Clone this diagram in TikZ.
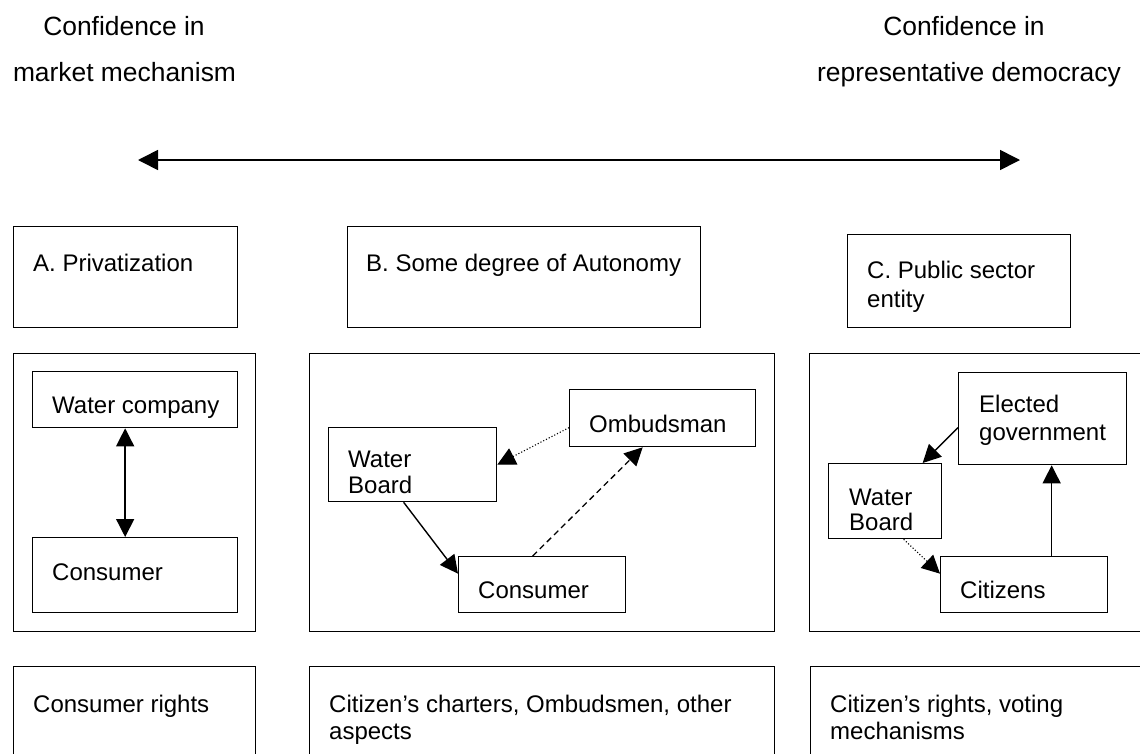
\documentclass[tikz,border=0pt]{standalone}
\usepackage{fontspec}
\setmainfont{Liberation Sans}
\usetikzlibrary{arrows.meta,calc}
\begin{document}
\begin{tikzpicture}[x=1pt,y=-1pt,
  box/.style={draw, line width=1.3pt, rectangle, inner sep=0pt, anchor=north west},
  txt/.style={inner sep=0pt, anchor=base west, align=left, font=\fontsize{24}{27}\selectfont},
  head/.style={inner sep=0pt, anchor=base, font=\fontsize{26.4}{30}\selectfont},
  tip/.style={Triangle[length=18pt,width=18pt]},
  conn/.style={line width=1.4pt, -{Triangle[length=18pt,width=18pt]}},
  dotconn/.style={line width=1.1pt, dotted, -{Triangle[length=18pt,width=18pt]}},
  dashconn/.style={line width=1.3pt, dash pattern=on 6pt off 4pt, -{Triangle[length=18pt,width=18pt]}}
]
\useasboundingbox (0,0) rectangle (1140,753);
\clip (0,0) rectangle (1140,753);

% headings
\node[head] (hl1) at (124,35) {Confidence in};
\node[head] (hl2) at (124.5,81.7) {market mechanism};
\node[head] (hr1) at (964,35) {Confidence in};
\node[head] (hr2) at (969,81.7) {representative democracy};

% main axis arrow
\coordinate (axL) at (138,160);
\coordinate (axR) at (1020,160);
\draw[line width=1.6pt, {Triangle[length=20pt,width=20pt]}-{Triangle[length=20pt,width=20pt]}] (axL) -- (axR);

% category boxes
\node[box, minimum width=224pt, minimum height=101pt] (boxA) at (13,226) {};
\node[box, minimum width=353pt, minimum height=101pt] (boxB) at (347,226) {};
\node[box, minimum width=223pt, minimum height=93pt] (boxC) at (847,234) {};
\node[txt] (tA) at (33,271) {A. Privatization};
\node[txt] (tB) at (366,271) {B. Some degree of Autonomy};
\node[txt] (tC1) at (867,278) {C. Public sector};
\node[txt] (tC2) at (867,307) {entity};

% panels
\node[box, minimum width=242pt, minimum height=278pt] (panA) at (13,353) {};
\node[box, minimum width=465pt, minimum height=278pt] (panB) at (309,353) {};
\node[box, minimum width=400pt, minimum height=278pt] (panC) at (809,353) {};

% panel A
\node[box, minimum width=205pt, minimum height=56pt] (wc) at (32,371) {};
\node[box, minimum width=205pt, minimum height=75pt] (consA) at (32,537) {};
\node[txt] at (52,413) {Water company};
\node[txt] at (52,580) {Consumer};
\draw[line width=1.4pt, {Triangle[length=18pt,width=18pt]}-{Triangle[length=18pt,width=18pt]}]
  ($(wc.south)+(-10,0)$) -- ($(consA.north)+(-10,0)$);

% panel B
\node[box, minimum width=168pt, minimum height=74pt] (wbB) at (328,427) {};
\node[box, minimum width=186pt, minimum height=57pt] (omb) at (569,389) {};
\node[box, minimum width=167pt, minimum height=56pt] (consB) at (458,556) {};
\node[txt] at (348,467) {Water};
\node[txt] at (348,493) {Board};
\node[txt] at (589,432) {Ombudsman};
\node[txt] at (478,598) {Consumer};
\draw[conn] ($(wbB.south)+(-9,0)$) -- ($(consB.west)+(0,-11)$);
\draw[dotconn] ($(omb.west)+(0,9.5)$) -- (wbB.east);
\draw[dashconn] ($(consB.north)+(-9.5,0)$) -- ($(omb.south)+(-20,0)$);

% panel C
\node[box, minimum width=168pt, minimum height=92pt] (elect) at (958,372) {};
\node[box, minimum width=113pt, minimum height=75pt] (wbC) at (828,463) {};
\node[box, minimum width=167pt, minimum height=56pt] (citz) at (940,556) {};
\node[txt] at (979,412) {Elected};
\node[txt] at (979,440) {government};
\node[txt] at (849,505) {Water};
\node[txt] at (849,530) {Board};
\node[txt] at (960,598) {Citizens};
\draw[conn] ($(elect.west)+(0,9)$) -- ($(wbC.north)+(37.5,0)$);
\draw[dotconn] ($(wbC.south)+(18.5,0)$) -- ($(citz.west)+(0,-11)$);
\draw[conn] ($(citz.north)+(27.5,0)$) -- ($(elect.south)+(9,0)$);

% bottom boxes
\node[box, minimum width=242pt, minimum height=150pt] (botA) at (13,666) {};
\node[box, minimum width=465pt, minimum height=150pt] (botB) at (309,666) {};
\node[box, minimum width=400pt, minimum height=150pt] (botC) at (810,666) {};
\node[txt] at (33,712) {Consumer rights};
\node[txt] at (329,712) {Citizen’s charters, Ombudsmen, other};
\node[txt] at (329,739) {aspects};
\node[txt] at (830,712) {Citizen’s rights, voting};
\node[txt] at (830,739) {mechanisms};
\end{tikzpicture}
\end{document}
